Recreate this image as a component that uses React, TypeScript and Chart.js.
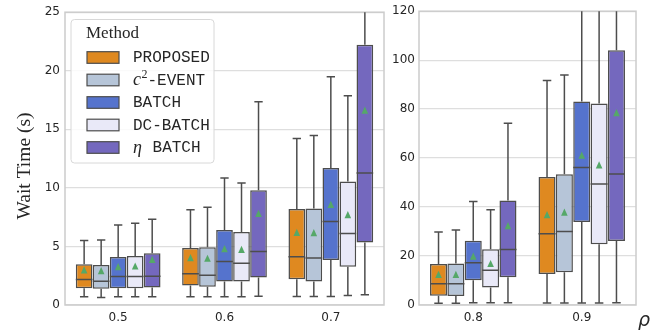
import React, { useEffect, useRef } from 'react';
import { Chart, registerables } from 'chart.js';

Chart.register(...registerables);

// ---------- data ----------
const rhoLeft = ['0.5', '0.6', '0.7'];
const rhoRight = ['0.8', '0.9'];
const methods = ['PROPOSED', 'c²-EVENT', 'BATCH', 'DC-BATCH', 'η BATCH'];
const colors = ['#DF8920', '#B6C5D8', '#5573CD', '#E9E9F8', '#7468BE'];
const leftTicks = [0, 5, 10, 15, 20, 25];
const rightTicks = [0, 20, 40, 60, 80, 100, 120];

// rows: method, columns: rho = 0.5, 0.6, 0.7, 0.8, 0.9
const whiskerLow = [
  [0.7, 0.7, 0.72, 0.7, 0.8],
  [0.64, 0.7, 0.72, 0.7, 0.8],
  [0.7, 0.7, 0.72, 0.9, 0.8],
  [0.7, 0.7, 0.81, 0.9, 0.8],
  [0.7, 0.75, 0.87, 0.9, 0.9],
];
const q1 = [
  [1.43, 1.66, 2.2, 3.8, 12.7],
  [1.38, 1.55, 2.0, 3.7, 13.4],
  [1.43, 2.0, 3.85, 10.1, 33.9],
  [1.43, 2.0, 3.26, 7.1, 24.8],
  [1.49, 2.34, 5.33, 11.3, 26.1],
];
const median = [
  [2.17, 2.66, 4.11, 8.7, 29.1],
  [2.03, 2.54, 4.02, 8.7, 30.0],
  [2.43, 3.71, 7.14, 17.3, 56.2],
  [2.43, 3.57, 6.1, 14.2, 49.4],
  [2.46, 4.56, 11.27, 22.7, 53.5],
];
const q3 = [
  [3.48, 4.87, 8.2, 16.7, 52.3],
  [3.42, 4.93, 8.25, 16.9, 53.4],
  [4.1, 6.41, 11.7, 26.2, 83.1],
  [4.19, 6.24, 10.55, 22.8, 82.3],
  [4.42, 9.79, 22.23, 42.7, 104.0],
];
const whiskerHigh = [
  [5.5, 8.14, 14.22, 29.8, 91.7],
  [5.55, 8.34, 14.48, 30.6, 93.9],
  [6.83, 10.84, 19.48, 42.3, 150],
  [6.98, 10.42, 17.86, 38.9, 150],
  [7.32, 17.35, 40, 74.2, 190],
];
const means = [
  [2.94, 3.99, 6.15, 12.3, 36.7],
  [2.88, 3.94, 6.12, 12.3, 37.7],
  [3.22, 4.76, 8.54, 19.7, 61.0],
  [3.28, 4.7, 7.66, 16.7, 57.0],
  [3.85, 7.77, 16.58, 32.2, 78.3],
];

// ---------- styles ----------
const EDGE = '#4d4d4d';
const MEAN_COLOR = '#55A868';
const TEXT = '#262626';
const MONO = '16px "Liberation Mono"';
const SERIF_IT = 'italic 18px "Liberation Serif"';

function boxPlugin(offset: number) {
  return {
    id: 'boxExtras',
    beforeDatasetsDraw(chart: any) {
      const { ctx, chartArea: a, scales } = chart;
      const ys = scales.y;
      ctx.save();
      ctx.strokeStyle = '#cccccc';
      ctx.lineWidth = 1.5;
      ctx.strokeRect(a.left, a.top, a.right - a.left, a.bottom - a.top);
      ctx.beginPath();
      ctx.rect(a.left, a.top, a.right - a.left, a.bottom - a.top);
      ctx.clip();
      ctx.strokeStyle = EDGE;
      ctx.lineWidth = 1.5;
      chart.data.datasets.forEach((_: any, i: number) => {
        const meta = chart.getDatasetMeta(i);
        meta.data.forEach((el: any, j: number) => {
          const k = offset + j;
          const x = el.x;
          const hw = el.width / 4;
          const pq1 = ys.getPixelForValue(q1[i][k]);
          const pq3 = ys.getPixelForValue(q3[i][k]);
          const pl = ys.getPixelForValue(whiskerLow[i][k]);
          const ph = ys.getPixelForValue(whiskerHigh[i][k]);
          ctx.beginPath();
          ctx.moveTo(x, pq3);
          ctx.lineTo(x, ph);
          ctx.moveTo(x, pq1);
          ctx.lineTo(x, pl);
          ctx.moveTo(x - hw, ph);
          ctx.lineTo(x + hw, ph);
          ctx.moveTo(x - hw, pl);
          ctx.lineTo(x + hw, pl);
          ctx.stroke();
        });
      });
      ctx.restore();
    },
    afterDatasetsDraw(chart: any) {
      const { ctx, chartArea: a, scales } = chart;
      const ys = scales.y;
      ctx.save();
      ctx.beginPath();
      ctx.rect(a.left, a.top, a.right - a.left, a.bottom - a.top);
      ctx.clip();
      chart.data.datasets.forEach((_: any, i: number) => {
        const meta = chart.getDatasetMeta(i);
        meta.data.forEach((el: any, j: number) => {
          const k = offset + j;
          const x = el.x;
          const hw = el.width / 2;
          const pm = ys.getPixelForValue(median[i][k]);
          ctx.strokeStyle = EDGE;
          ctx.lineWidth = 1.5;
          ctx.beginPath();
          ctx.moveTo(x - hw, pm);
          ctx.lineTo(x + hw, pm);
          ctx.stroke();
          const pmean = ys.getPixelForValue(means[i][k]);
          ctx.fillStyle = MEAN_COLOR;
          ctx.beginPath();
          ctx.moveTo(x, pmean - 4.2);
          ctx.lineTo(x + 3.3, pmean + 3);
          ctx.lineTo(x - 3.3, pmean + 3);
          ctx.closePath();
          ctx.fill();
        });
      });
      ctx.restore();
    },
  };
}

function drawParts(ctx: CanvasRenderingContext2D, parts: any[], x: number, y: number) {
  let cx = x;
  parts.forEach((p) => {
    ctx.font = p.font;
    ctx.fillText(p.t, cx, y + (p.dy || 0));
    cx += ctx.measureText(p.t).width + (p.gap || 0);
  });
}

function legendParts(i: number) {
  if (i === 1)
    return [
      { t: 'c', font: SERIF_IT, gap: 0.5 },
      { t: '2', font: '12px "Liberation Serif"', dy: -6 },
      { t: '-EVENT', font: MONO },
    ];
  if (i === 4)
    return [
      { t: 'η', font: SERIF_IT, gap: 1 },
      { t: ' BATCH', font: MONO },
    ];
  return [{ t: methods[i], font: MONO }];
}

const legendPlugin = {
  id: 'methodLegend',
  afterDraw(chart: any) {
    const ctx: CanvasRenderingContext2D = chart.ctx;
    ctx.save();
    // y label (figure level)
    ctx.save();
    ctx.translate(25, 166);
    ctx.rotate(-Math.PI / 2);
    ctx.fillStyle = TEXT;
    ctx.font = '19.5px "Liberation Serif"';
    ctx.textAlign = 'center';
    ctx.textBaseline = 'middle';
    ctx.fillText('Wait Time (s)', 0, 0);
    ctx.restore();

    const bx = 71, by = 19.5, bw = 143, bh = 143.5, r = 3.5;
    ctx.beginPath();
    ctx.moveTo(bx + r, by);
    ctx.arcTo(bx + bw, by, bx + bw, by + bh, r);
    ctx.arcTo(bx + bw, by + bh, bx, by + bh, r);
    ctx.arcTo(bx, by + bh, bx, by, r);
    ctx.arcTo(bx, by, bx + bw, by, r);
    ctx.closePath();
    ctx.fillStyle = 'rgba(255,255,255,0.85)';
    ctx.fill();
    ctx.strokeStyle = '#d8d8d8';
    ctx.lineWidth = 1;
    ctx.stroke();

    ctx.fillStyle = TEXT;
    ctx.textBaseline = 'middle';
    ctx.font = '17px "Liberation Serif"';
    ctx.fillText('Method', 86, 34);

    const rows = [57.5, 80, 102.5, 125, 147.5];
    methods.forEach((_, i) => {
      const cy = rows[i];
      ctx.fillStyle = colors[i];
      ctx.fillRect(87, cy - 5.8, 32, 11.6);
      ctx.strokeStyle = EDGE;
      ctx.lineWidth = 1.2;
      ctx.strokeRect(87, cy - 5.8, 32, 11.6);
      ctx.fillStyle = TEXT;
      drawParts(ctx, legendParts(i), 133, cy + 0.5);
    });
    ctx.restore();
  },
};

const rhoPlugin = {
  id: 'rhoLabel',
  afterDraw(chart: any) {
    const ctx: CanvasRenderingContext2D = chart.ctx;
    ctx.save();
    ctx.fillStyle = TEXT;
    ctx.font = 'italic 19px "DejaVu Sans"';
    ctx.textAlign = 'center';
    ctx.textBaseline = 'alphabetic';
    ctx.fillText('ρ', 254, 326);
    ctx.restore();
  },
};

function makeChart(
  canvas: HTMLCanvasElement,
  labels: string[],
  offset: number,
  ticks: number[],
  axisWidth: number,
  padRight: number,
  tickPad: number,
  extra: any[]
) {
  const datasets = methods.map((m, i) => ({
    label: m,
    data: labels.map((_, j) => [q1[i][offset + j], q3[i][offset + j]]),
    backgroundColor: colors[i],
    borderColor: EDGE,
    borderWidth: 1.5,
    borderSkipped: false,
    categoryPercentage: 0.8,
    barPercentage: 0.98,
  }));
  const tickFont = { family: '"DejaVu Sans"', size: 12 };
  return new Chart(canvas, {
    type: 'bar',
    data: { labels, datasets: datasets as any },
    options: {
      responsive: false,
      animation: false,
      layout: { padding: { top: 11, right: padRight, left: 0, bottom: 0 } },
      plugins: { legend: { display: false }, tooltip: { enabled: false } },
      scales: {
        x: {
          grid: { display: false, drawTicks: false },
          border: { display: false },
          ticks: { font: tickFont, color: TEXT, padding: 6 },
          afterFit: (s: any) => {
            s.height = 25;
          },
        },
        y: {
          min: ticks[0],
          max: ticks[ticks.length - 1],
          afterBuildTicks: (s: any) => {
            s.ticks = ticks.map((v) => ({ value: v }));
          },
          grid: { color: '#dedede', lineWidth: 1.3, drawTicks: false },
          border: { display: false },
          ticks: { font: tickFont, color: TEXT, padding: tickPad },
          afterFit: (s: any) => {
            s.width = axisWidth;
          },
        },
      },
    },
    plugins: [boxPlugin(offset), ...extra],
  } as any);
}

export default function App() {
  const leftRef = useRef<HTMLCanvasElement>(null);
  const rightRef = useRef<HTMLCanvasElement>(null);

  useEffect(() => {
    const c1 = makeChart(leftRef.current!, rhoLeft, 0, leftTicks, 65, 6, 5, [legendPlugin]);
    const c2 = makeChart(rightRef.current!, rhoRight, 3, rightTicks, 29, 29, 4, [rhoPlugin]);
    return () => {
      c1.destroy();
      c2.destroy();
    };
  }, []);

  return (
    <div style={{ position: 'absolute', left: 0, top: 0, width: 665, height: 330, background: '#fff' }}>
      <canvas ref={leftRef} width={390} height={330} style={{ position: 'absolute', left: 0, top: 0 }} />
      <canvas ref={rightRef} width={275} height={330} style={{ position: 'absolute', left: 390, top: 0 }} />
    </div>
  );
}
